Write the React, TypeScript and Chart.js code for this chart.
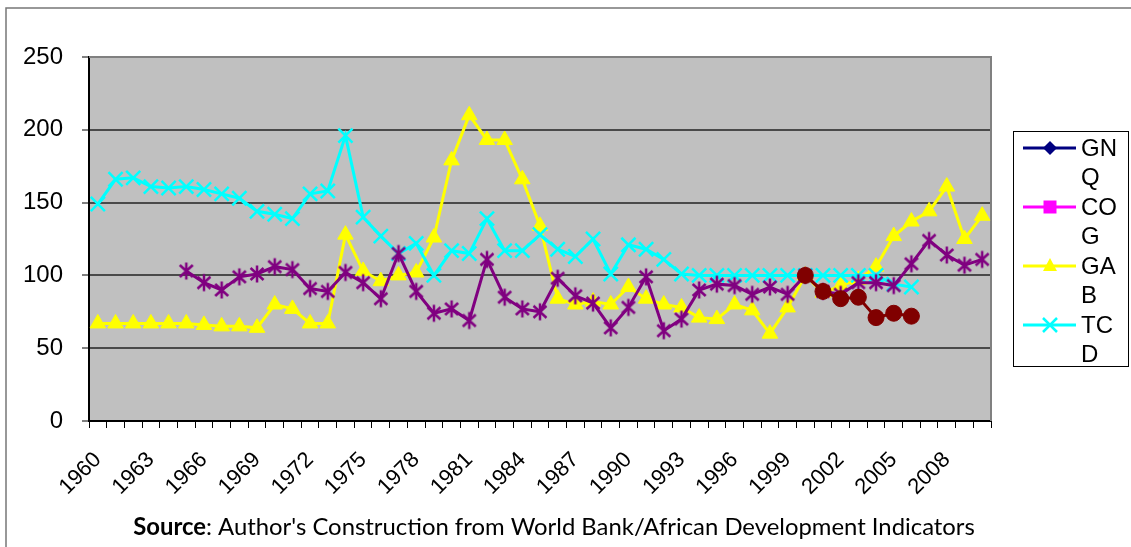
import React, { useEffect, useRef } from 'react';
import { Chart, registerables } from 'chart.js';

Chart.register(...registerables);

const N = null;

const years = [
  '1960', '1961', '1962', '1963', '1964', '1965', '1966', '1967', '1968', '1969',
  '1970', '1971', '1972', '1973', '1974', '1975', '1976', '1977', '1978', '1979',
  '1980', '1981', '1982', '1983', '1984', '1985', '1986', '1987', '1988', '1989',
  '1990', '1991', '1992', '1993', '1994', '1995', '1996', '1997', '1998', '1999',
  '2000', '2001', '2002', '2003', '2004', '2005', '2006', '2007', '2008', '2009',
  '2010',
];

const gnq = [
  N, N, N, N, N, N, N, N, N, N,
  N, N, N, N, N, N, N, N, N, N,
  N, N, N, N, N, N, N, N, N, N,
  N, N, N, N, N, N, N, N, N, N,
  100, N, N, N, N, N, N, N, N, N,
  N,
];

const cog = [
  N, N, N, N, N, N, N, N, N, N,
  N, N, N, N, N, N, N, N, N, N,
  N, N, N, N, N, N, N, N, N, N,
  N, N, N, N, N, N, N, N, N, N,
  100, N, N, N, N, N, N, N, N, N,
  N,
];

const gab = [
  67, 67, 67, 67, 67, 67, 66, 65, 65, 64,
  80, 77, 67, 67, 128, 103, 96, 100, 102, 126,
  179, 210, 193, 193, 166, 134, 84, 80, 82, 80,
  92, 84, 80, 78, 71, 70, 80, 76, 60, 78,
  100, 88, 93, 97, 106, 127, 137, 144, 161, 125,
  141,
];

const tcd = [
  149, 166, 167, 161, 160, 161, 159, 156, 153, 144,
  142, 139, 156, 158, 196, 140, 127, 115, 122, 100,
  117, 115, 139, 117, 117, 128, 118, 113, 125, 101,
  121, 118, 111, 101, 100, 100, 100, 100, 100, 100,
  100, 100, 100, 100, 100, 94, 92, N, N, N,
  N,
];

const cmr = [
  N, N, N, N, N, 103, 95, 90, 99, 101,
  106, 104, 91, 89, 102, 95, 84, 115, 89, 74,
  77, 69, 111, 85, 77, 75, 98, 86, 81, 64,
  78, 99, 62, 70, 90, 94, 93, 87, 92, 87,
  100, 89, 87, 95, 95, 93, 108, 124, 114, 107,
  111,
];

const caf = [
  N, N, N, N, N, N, N, N, N, N,
  N, N, N, N, N, N, N, N, N, N,
  N, N, N, N, N, N, N, N, N, N,
  N, N, N, N, N, N, N, N, N, N,
  100, 89, 84, 85, 71, 74, 72, N, N, N,
  N,
];

const yTicks = [0, 50, 100, 150, 200, 250];
const xLabelEvery = 3;
const legendSeries = ['GNQ', 'COG', 'GAB', 'TCD'];
const sourceBold = 'Source';
const sourceRest = ": Author's Construction from World Bank/African Development Indicators";

const W = 1131;
const H = 547;
const AXIS_FONT = '"Liberation Sans", Arial, sans-serif';

function makeAsterisk(color: string): HTMLCanvasElement {
  const c = document.createElement('canvas');
  c.width = 20;
  c.height = 20;
  const g = c.getContext('2d')!;
  g.strokeStyle = color;
  g.lineWidth = 2.5;
  g.beginPath();
  g.moveTo(10, 1.5);
  g.lineTo(10, 18.5);
  g.moveTo(3.5, 4);
  g.lineTo(16.5, 16);
  g.moveTo(16.5, 4);
  g.lineTo(3.5, 16);
  g.stroke();
  return c;
}

type SeriesStyle = { label: string; data: (number | null)[]; color: string; style: any; radius: number; pbw: number };

function buildSeries(): SeriesStyle[] {
  return [
    { label: 'GNQ', data: gnq, color: '#000080', style: 'rectRot', radius: 6, pbw: 1 },
    { label: 'COG', data: cog, color: '#FF00FF', style: 'rect', radius: 7, pbw: 1 },
    { label: 'GAB', data: gab, color: '#FFFF00', style: 'triangle', radius: 9, pbw: 1 },
    { label: 'TCD', data: tcd, color: '#00FFFF', style: 'crossRot', radius: 10, pbw: 2.5 },
    { label: 'CMR', data: cmr, color: '#800080', style: makeAsterisk('#800080'), radius: 8, pbw: 1 },
    { label: 'CAF', data: caf, color: '#800000', style: 'circle', radius: 8, pbw: 1 },
  ];
}

const legendColors: Record<string, [string, string]> = {
  GNQ: ['#000080', 'rectRot'],
  COG: ['#FF00FF', 'rect'],
  GAB: ['#FFFF00', 'triangle'],
  TCD: ['#00FFFF', 'crossRot'],
};

function drawMarker(ctx: CanvasRenderingContext2D, style: string, color: string, x: number, y: number) {
  ctx.save();
  ctx.fillStyle = color;
  ctx.strokeStyle = color;
  ctx.beginPath();
  if (style === 'rectRot') {
    const r = 7;
    ctx.moveTo(x, y - r);
    ctx.lineTo(x + r, y);
    ctx.lineTo(x, y + r);
    ctx.lineTo(x - r, y);
    ctx.closePath();
    ctx.fill();
  } else if (style === 'rect') {
    ctx.rect(x - 6.5, y - 6.5, 13, 13);
    ctx.fill();
  } else if (style === 'triangle') {
    ctx.moveTo(x, y - 8);
    ctx.lineTo(x + 7, y + 5);
    ctx.lineTo(x - 7, y + 5);
    ctx.closePath();
    ctx.fill();
  } else if (style === 'crossRot') {
    ctx.lineWidth = 2.5;
    const r = 7;
    ctx.moveTo(x - r, y - r);
    ctx.lineTo(x + r, y + r);
    ctx.moveTo(x + r, y - r);
    ctx.lineTo(x - r, y + r);
    ctx.stroke();
  }
  ctx.restore();
}

const framePlugin = {
  id: 'frame',
  beforeDraw(chart: any) {
    const { ctx, chartArea } = chart;
    ctx.save();
    ctx.fillStyle = '#FFFFFF';
    ctx.fillRect(0, 0, W, H);
    ctx.strokeStyle = '#777777';
    ctx.lineWidth = 1.5;
    ctx.strokeRect(6, 8, W + 20, H + 20);
    ctx.fillStyle = '#C0C0C0';
    ctx.fillRect(chartArea.left, chartArea.top, chartArea.right - chartArea.left, chartArea.bottom - chartArea.top);
    ctx.restore();
  },
  beforeDatasetsDraw(chart: any) {
    const { ctx, chartArea } = chart;
    ctx.save();
    ctx.strokeStyle = '#808080';
    ctx.lineWidth = 2;
    ctx.beginPath();
    ctx.moveTo(chartArea.left, chartArea.top);
    ctx.lineTo(chartArea.right, chartArea.top);
    ctx.lineTo(chartArea.right, chartArea.bottom);
    ctx.stroke();
    ctx.restore();
  },
  afterDraw(chart: any) {
    const { ctx } = chart;
    ctx.save();
    // legend
    const bx = 1013.5, by = 131.5, bw = 115, bh = 235;
    ctx.fillStyle = '#FFFFFF';
    ctx.fillRect(bx, by, bw, bh);
    ctx.strokeStyle = '#000000';
    ctx.lineWidth = 1;
    ctx.strokeRect(bx, by, bw, bh);
    legendSeries.forEach((name, i) => {
      const [color, style] = legendColors[name];
      const cy = 148 + i * 59;
      ctx.strokeStyle = color;
      ctx.lineWidth = 3;
      ctx.beginPath();
      ctx.moveTo(1023, cy);
      ctx.lineTo(1076, cy);
      ctx.stroke();
      drawMarker(ctx, style, color, 1050, cy);
      ctx.fillStyle = '#000000';
      ctx.font = `24px ${AXIS_FONT}`;
      ctx.textAlign = 'left';
      ctx.textBaseline = 'middle';
      ctx.fillText(name.slice(0, 2), 1081, cy + 1);
      ctx.fillText(name.slice(2), 1081, cy + 30.5);
    });
    // source text
    const size = 21;
    const fam = 'Lato, "Open Sans", sans-serif';
    ctx.font = `bold ${size}px ${fam}`;
    const wb = ctx.measureText(sourceBold).width;
    ctx.font = `${size}px ${fam}`;
    const wr = ctx.measureText(sourceRest).width;
    const k = 842 / (wb + wr);
    const fs = size * k;
    ctx.font = `bold ${fs}px ${fam}`;
    const wb2 = ctx.measureText(sourceBold).width;
    ctx.font = `${fs}px ${fam}`;
    const wr2 = ctx.measureText(sourceRest).width;
    const x0 = 554 - (wb2 + wr2) / 2;
    ctx.textBaseline = 'middle';
    ctx.textAlign = 'left';
    ctx.fillStyle = '#000000';
    ctx.font = `bold ${fs}px ${fam}`;
    ctx.fillText(sourceBold, x0, 527);
    ctx.font = `${fs}px ${fam}`;
    ctx.fillText(sourceRest, x0 + wb2, 527);
    ctx.restore();
  },
};

export default function App() {
  const ref = useRef<HTMLCanvasElement>(null);
  useEffect(() => {
    document.body.style.margin = '0';
    const canvas = ref.current!;
    const series = buildSeries();
    const chart = new Chart(canvas, {
      type: 'line',
      data: {
        labels: years,
        datasets: series.map((s, i) => ({
          label: s.label,
          data: s.data,
          borderColor: s.color,
          backgroundColor: s.color,
          borderWidth: 3,
          pointStyle: s.style,
          pointRadius: s.radius,
          pointHoverRadius: s.radius,
          pointBorderWidth: s.pbw,
          pointBackgroundColor: s.color,
          pointBorderColor: s.color,
          tension: 0,
          spanGaps: false,
          order: series.length - i,
        })),
      },
      options: {
        responsive: false,
        animation: false,
        events: [],
        layout: { padding: { left: 0, top: 57, right: 140, bottom: 0 } },
        plugins: {
          legend: { display: false },
          tooltip: { enabled: false },
          title: { display: false },
        },
        scales: {
          x: {
            type: 'category',
            offset: true,
            afterFit: (s: any) => { s.height = 126; },
            grid: {
              offset: true,
              drawOnChartArea: false,
              drawTicks: true,
              tickLength: 7,
              tickColor: '#000000',
              tickWidth: 1,
            },
            border: { color: '#000000', width: 2 },
            ticks: {
              autoSkip: false,
              maxRotation: 45,
              minRotation: 45,
              padding: 19,
              color: '#000000',
              font: { family: AXIS_FONT, size: 22 },
              callback: (_v: any, idx: number) => (idx % xLabelEvery === 0 ? years[idx] : ''),
            },
          },
          y: {
            min: yTicks[0],
            max: yTicks[yTicks.length - 1],
            afterFit: (s: any) => { s.width = 89; },
            afterBuildTicks: (s: any) => { s.ticks = yTicks.map((v) => ({ value: v })); },
            grid: {
              color: '#4a4a4a',
              lineWidth: 2,
              tickLength: 7,
              tickColor: '#000000',
              tickWidth: 1,
            },
            border: { color: '#000000', width: 2 },
            ticks: {
              padding: 19,
              color: '#000000',
              font: { family: AXIS_FONT, size: 24 },
            },
          },
        },
      },
      plugins: [framePlugin],
    });
    return () => chart.destroy();
  }, []);
  return (
    <div style={{ width: W, height: H }}>
      <canvas ref={ref} width={W} height={H} style={{ display: 'block' }} />
    </div>
  );
}
